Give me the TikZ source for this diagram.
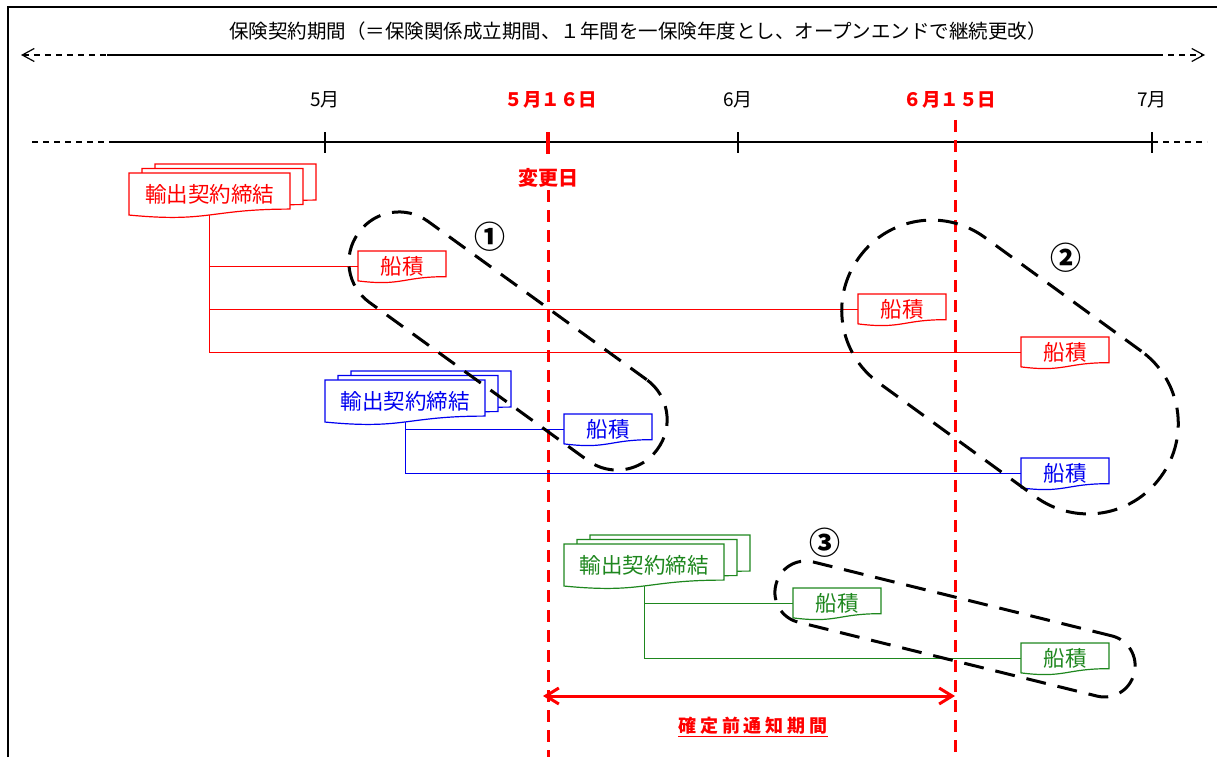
\documentclass[tikz,border=0pt]{standalone}
\usepackage{fontspec}
\setmainfont{Noto Sans CJK JP}
\usetikzlibrary{arrows.meta}
\definecolor{cred}{RGB}{255,0,0}
\definecolor{cblue}{RGB}{0,0,240}
\definecolor{cgreen}{RGB}{30,135,30}
\newcommand\ulbar[1]{\vtop{\hbox{#1}\kern1.5pt\hrule height 1.6pt}}
% name, x, y, w, H, color, text
\newcommand\docshape[7]{%
  \draw[#6, line width=1.2pt, fill=white] (#2,#3) -- ({#2+#4},#3) -- ({#2+#4},{#3+0.802*#5})
    .. controls ({#2+0.5*#4},{#3+0.802*#5}) and ({#2+0.5*#4},{#3+1.107*#5}) .. (#2,{#3+0.934*#5}) -- cycle;
  \node[anchor=north west, minimum width={#4*1pt}, minimum height={0.933*#5*1pt}, inner sep=0pt,
        text=#6, font=\fontsize{21.5}{25}\selectfont] (#1) at (#2,#3) {#7};
}
\begin{document}
\begin{tikzpicture}[x=1pt,y=-1pt,
  thin line/.style={line width=1.2pt},
  tdash/.style={line width=1.2pt, dash pattern=on 6pt off 5pt},
  reddash/.style={cred, line width=3pt, dash pattern=on 12pt off 8pt},
  ell/.style={draw=black, line width=3pt, dash pattern=on 20pt off 12pt, rectangle, inner sep=0pt},
  month/.style={font=\fontsize{19}{22}\selectfont},
  redlab/.style={text=cred, font=\fontsize{18.5}{22}\selectfont\bfseries},
  circnum/.style={font=\fontsize{31}{34}\selectfont\bfseries},
  conn/.style={line width=1.2pt}
]
\useasboundingbox (0,0) rectangle (1217,757);
% frame
\draw[line width=2pt] (8,757) -- (8,7) -- (1217,7);
\node[font=\fontsize{19.5}{23}\selectfont] (title) at (638,31) {保険契約期間（＝保険関係成立期間、１年間を一保険年度とし、オープンエンドで継続更改）};
% period arrow
\coordinate (pa0) at (21,55);
\coordinate (pa1) at (107,55);
\coordinate (pa2) at (1157,55);
\coordinate (pa3) at (1205,55);
\draw[tdash, {Straight Barb[length=12pt,width=13pt]}-] (pa0) -- (pa1);
\draw[thin line] (pa1) -- (pa2);
\draw[tdash, -{Straight Barb[length=12pt,width=13pt]}] (pa2) -- (pa3);
% timeline
\coordinate (t0) at (32,142);
\coordinate (t1) at (113,142);
\coordinate (t2) at (1152,142);
\coordinate (t3) at (1207,142);
\draw[tdash] (t0) -- (t1);
\draw[thin line] (t1) -- (t2);
\draw[tdash] (t2) -- (t3);
\draw[thin line] (325,132) -- (325,153);
\draw[thin line] (738,132) -- (738,153);
\draw[thin line] (1152,132) -- (1152,153);
\node[month] (m5) at (325,100) {5月};
\node[month] (m6) at (738,100) {6月};
\node[month] (m7) at (1152,100) {7月};
\node[redlab] (d516) at (551,100) {５月１６日};
\node[redlab] (d615) at (950,100) {６月１５日};
\node[redlab, font=\fontsize{20}{23}\selectfont\bfseries] (chg) at (548,178) {変更日};
% red markers
\draw[cred, line width=3.5pt] (548,132) -- (548,154);
\draw[reddash] (548,190) -- (548,757);
\draw[reddash] (955,120) -- (955,757);
% red contracts
\docshape{rc3}{155}{164}{161}{45}{cred}{}
\docshape{rc2}{142}{168.5}{161}{45}{cred}{}
\docshape{rc}{129}{173}{161}{45}{cred}{輸出契約締結}
\docshape{rs1}{358}{251}{88}{32}{cred}{船積}
\docshape{rs2}{858}{294}{88}{32}{cred}{船積}
\docshape{rs3}{1021}{337}{88}{32}{cred}{船積}
\draw[cred, conn] (rc.south) |- (rs1.west);
\draw[cred, conn] (rc.south) |- (rs2.west);
\draw[cred, conn] (rc.south) |- (rs3.west);
% blue contracts
\docshape{bc3}{351}{371}{160}{45}{cblue}{}
\docshape{bc2}{338}{375.5}{160}{45}{cblue}{}
\docshape{bc}{325}{380}{160}{45}{cblue}{輸出契約締結}
\docshape{bs1}{564}{414}{88}{32}{cblue}{船積}
\docshape{bs2}{1021}{458}{88}{32}{cblue}{船積}
\draw[cblue, conn] (bc.south) |- (bs1.west);
\draw[cblue, conn] (bc.south) |- (bs2.west);
% green contracts
\docshape{gc3}{590}{535}{160}{45}{cgreen}{}
\docshape{gc2}{577}{539.5}{160}{45}{cgreen}{}
\docshape{gc}{564}{544}{160}{45}{cgreen}{輸出契約締結}
\docshape{gs1}{793}{588}{88}{32}{cgreen}{船積}
\docshape{gs2}{1021}{643}{88}{32}{cgreen}{船積}
\draw[cgreen, conn] (gc.south) |- (gs1.west);
\draw[cgreen, conn] (gc.south) |- (gs2.west);
% notice period arrow
\coordinate (np0) at (543,696);
\coordinate (np1) at (955,696);
\draw[cred, line width=3pt, {Straight Barb[length=13pt,width=16pt]}-{Straight Barb[length=13pt,width=16pt]}] (np0) -- (np1);
\node[text=cred, font=\fontsize{18}{21}\selectfont\bfseries] (npl) at (753,727) {\ulbar{\addfontfeature{LetterSpace=22}確定前通知期間}};
% groups
\node[ell, minimum width=369pt, minimum height=100pt, rounded corners=49.5pt, rotate=-35.9] (e1) at (508,341) {};
\node[ell, minimum width=373pt, minimum height=180pt, rounded corners=89.5pt, rotate=-36] (e2) at (1010,367) {};
\node[ell, minimum width=369pt, minimum height=62pt, rounded corners=30.5pt, rotate=-13.9] (e3) at (955,629) {};
\node[circnum] (n1) at (490,237) {①};
\node[circnum] (n2) at (1066,258) {②};
\node[circnum] (n3) at (825,543) {③};
\end{tikzpicture}
\end{document}
